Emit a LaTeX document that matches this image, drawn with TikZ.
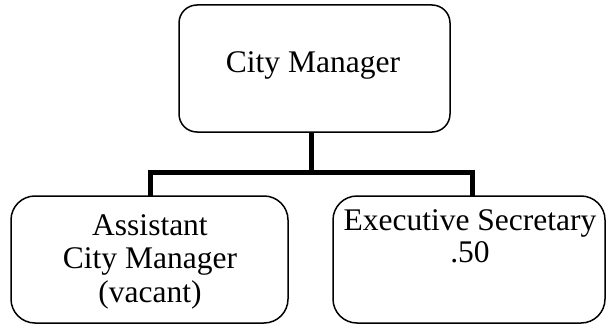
\documentclass[tikz,border=0pt]{standalone}
\usepackage{fontspec}
\setmainfont{Liberation Serif}
\begin{document}
\begin{tikzpicture}[x=1pt,y=-1pt,
  box/.style={draw=black,line width=1.5pt,rounded corners=#1,inner sep=0pt},
  box/.default=18pt,
  txt/.style={align=center,font=\fontsize{31.5}{33.5}\selectfont,inner sep=0pt},
  conn/.style={line width=5pt,line cap=rect}]
\useasboundingbox (0,0) rectangle (607,326);
% boxes
\draw[box=18pt] (179,5) rectangle (450,132);
\node[inner sep=0pt] (top) at (314.5,68.5) {};
\coordinate (topS) at (311,132);
\draw[box=24pt] (11,196) rectangle (288,323);
\coordinate (leftN) at (150,196);
\draw[box=24pt] (333,196) rectangle (605,323);
\coordinate (rightN) at (472,196);
% texts
\node[txt,anchor=base] (tcm) at (313,73) {City Manager};
\node[txt,anchor=base] (l1) at (150,235) {Assistant};
\node[txt,anchor=base] (l2) at (150,268) {City Manager};
\node[txt,anchor=base] (l3) at (150,302) {(vacant)};
\node[txt,anchor=base] (r1) at (470,230) {Executive Secretary};
\node[txt,anchor=base] (r2) at (470,262) {.50};
% connectors
\coordinate (bar) at (311,172);
\draw[line width=5pt] (topS) -- (bar);
\draw[line width=5pt,line join=miter] (leftN) -- (leftN |- bar) -- (rightN |- bar) -- (rightN);
\end{tikzpicture}
\end{document}
